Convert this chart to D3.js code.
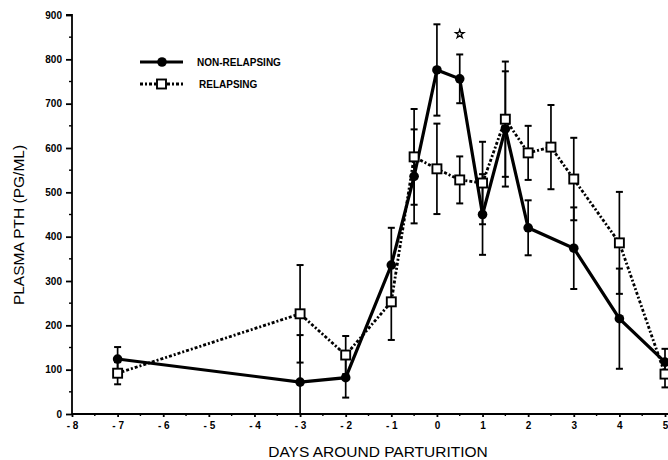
<!DOCTYPE html>
<html>
<head>
<meta charset="utf-8">
<script src="https://cdn.jsdelivr.net/npm/d3@7"></script>
<style>
  body { margin: 0; background: #fff; }
  svg { display: block; }
  .axis path, .axis line { stroke: #000; stroke-width: 1.8; }
  .axis text { font-family: 'Liberation Sans', Arial, sans-serif; font-size: 10px; font-weight: bold; fill: #000; }
</style>
</head>
<body>
<div id="chart"></div>
<script>
// days around parturition
var nonRelDays = [-7, -3, -2, -1, -0.5, 0, 0.5, 1, 1.5, 2, 3, 4, 5]
var nonRelValues = [124, 72, 82, 336, 536, 776, 756, 450, 643, 420, 374, 215, 117]
var nonRelErr = [27, 106, 45, 84, 106, 103, 55, 91, 130, 62, 92, 113, 30]

var relDays = [-7, -3, -2, -1, -0.5, 0, 0.5, 1, 1.5, 2, 2.5, 3, 4, 5]
var relValues = [92, 226, 133, 253, 580, 553, 528, 521, 665, 589, 602, 530, 386, 90]
var relErr = [25, 110, 43, 86, 108, 102, 53, 93, 130, 61, 95, 93, 115, 30]

var xTicks = [-8, -7, -6, -5, -4, -3, -2, -1, 0, 1, 2, 3, 4, 5]
var yTicks = [0, 100, 200, 300, 400, 500, 600, 700, 800, 900]
var starPoint = { day: 0.5, value: 857 }

var width = 668
var height = 460

var svg = d3.select('#chart')
  .append('svg')
  .attr('width', width)
  .attr('height', height)

var xPositionScale = d3.scaleLinear().domain([-8, 5]).range([72, 665])
var yPositionScale = d3.scaleLinear().domain([0, 900]).range([414, 15])

var nonRel = nonRelDays.map((d, i) => ({ day: d, value: nonRelValues[i], err: nonRelErr[i] }))
var rel = relDays.map((d, i) => ({ day: d, value: relValues[i], err: relErr[i] }))

// axes
var xAxis = d3.axisBottom(xPositionScale)
  .tickValues(xTicks)
  .tickSize(3)
  .tickPadding(5)
  .tickFormat(d => d < 0 ? '- ' + Math.abs(d) : d)
svg.append('g')
  .attr('class', 'axis x-axis')
  .attr('transform', 'translate(0,414)')
  .call(xAxis)
  .call(g => g.select('.domain').attr('d', 'M72,0H668'))

var xMinor = d3.range(-7.5, 5, 1)
svg.append('g')
  .selectAll('line')
  .data(xMinor)
  .enter()
  .append('line')
  .attr('x1', d => xPositionScale(d))
  .attr('x2', d => xPositionScale(d))
  .attr('y1', 414)
  .attr('y2', 416)
  .attr('stroke', '#000')
  .attr('stroke-width', 1.4)

var yAxis = d3.axisLeft(yPositionScale)
  .tickValues(yTicks)
  .tickSize(6)
  .tickPadding(4)
svg.append('g')
  .attr('class', 'axis y-axis')
  .attr('transform', 'translate(72,0)')
  .call(yAxis)
  .call(g => g.select('.domain').attr('d', 'M0,414V15H-6'))

var yMinor = d3.range(50, 900, 100)
svg.append('g')
  .selectAll('line')
  .data(yMinor)
  .enter()
  .append('line')
  .attr('x1', 72)
  .attr('x2', 69)
  .attr('y1', d => yPositionScale(d))
  .attr('y2', d => yPositionScale(d))
  .attr('stroke', '#000')
  .attr('stroke-width', 1.4)

// error bars
function drawErrors(data) {
  var g = svg.append('g')
  data.forEach(function (d) {
    var x = xPositionScale(d.day)
    var top = yPositionScale(d.value + d.err)
    var bottom = yPositionScale(Math.max(0, d.value - d.err))
    g.append('line')
      .attr('x1', x).attr('x2', x)
      .attr('y1', top).attr('y2', bottom)
      .attr('stroke', '#000').attr('stroke-width', 1.7)
    g.append('line')
      .attr('x1', x - 3.5).attr('x2', x + 3.5)
      .attr('y1', top).attr('y2', top)
      .attr('stroke', '#000').attr('stroke-width', 2)
    if (d.value - d.err > 0) {
      g.append('line')
        .attr('x1', x - 3.5).attr('x2', x + 3.5)
        .attr('y1', bottom).attr('y2', bottom)
        .attr('stroke', '#000').attr('stroke-width', 2)
    }
  })
}
drawErrors(nonRel)
drawErrors(rel)

var line = d3.line()
  .x(d => xPositionScale(d.day))
  .y(d => yPositionScale(d.value))

// relapsing: dotted line, open squares
svg.append('path')
  .datum(rel)
  .attr('d', line)
  .attr('fill', 'none')
  .attr('stroke', '#000')
  .attr('stroke-width', 2.8)
  .attr('stroke-dasharray', '3,2,2,2')

// non-relapsing: solid line, filled circles
svg.append('path')
  .datum(nonRel)
  .attr('d', line)
  .attr('fill', 'none')
  .attr('stroke', '#000')
  .attr('stroke-width', 3.2)

svg.selectAll('.rel-point')
  .data(rel)
  .enter()
  .append('rect')
  .attr('class', 'rel-point')
  .attr('x', d => xPositionScale(d.day) - 4.5)
  .attr('y', d => yPositionScale(d.value) - 4.5)
  .attr('width', 9)
  .attr('height', 9)
  .attr('fill', '#fff')
  .attr('stroke', '#000')
  .attr('stroke-width', 1.9)

svg.selectAll('.nonrel-point')
  .data(nonRel)
  .enter()
  .append('circle')
  .attr('class', 'nonrel-point')
  .attr('cx', d => xPositionScale(d.day))
  .attr('cy', d => yPositionScale(d.value))
  .attr('r', 4.8)
  .attr('fill', '#000')

// significance star
svg.append('path')
  .attr('d', d3.symbol().type(d3.symbolStar).size(22)())
  .attr('transform', 'translate(' + xPositionScale(starPoint.day) + ',' + yPositionScale(starPoint.value) + ')')
  .attr('fill', 'none')
  .attr('stroke', '#000')
  .attr('stroke-width', 1.3)

// legend
var legend = svg.append('g')
legend.append('line')
  .attr('x1', 140).attr('x2', 183).attr('y1', 62).attr('y2', 62)
  .attr('stroke', '#000').attr('stroke-width', 3.2)
legend.append('circle')
  .attr('cx', 162).attr('cy', 62).attr('r', 4.8).attr('fill', '#000')
legend.append('text')
  .text('NON-RELAPSING')
  .attr('x', 197).attr('y', 65.5)
  .attr('font-family', "'Liberation Sans', Arial, sans-serif")
  .attr('font-size', 10).attr('font-weight', 'bold')

legend.append('line')
  .attr('x1', 140).attr('x2', 183).attr('y1', 84).attr('y2', 84)
  .attr('stroke', '#000').attr('stroke-width', 2.8)
  .attr('stroke-dasharray', '3,2,2,2')
legend.append('rect')
  .attr('x', 157).attr('y', 79.5).attr('width', 9).attr('height', 9)
  .attr('fill', '#fff').attr('stroke', '#000').attr('stroke-width', 1.9)
legend.append('text')
  .text('RELAPSING')
  .attr('x', 199).attr('y', 87.5)
  .attr('font-family', "'Liberation Sans', Arial, sans-serif")
  .attr('font-size', 10).attr('font-weight', 'bold')

// axis titles
svg.append('text')
  .text('DAYS AROUND PARTURITION')
  .attr('x', 378).attr('y', 457)
  .attr('text-anchor', 'middle')
  .attr('font-family', "'Liberation Sans', Arial, sans-serif")
  .attr('font-size', 15.5)

svg.append('text')
  .text('PLASMA PTH (PG/ML)')
  .attr('transform', 'translate(24,225) rotate(-90)')
  .attr('text-anchor', 'middle')
  .attr('font-family', "'Liberation Sans', Arial, sans-serif")
  .attr('font-size', 15.5)
</script>
</body>
</html>
